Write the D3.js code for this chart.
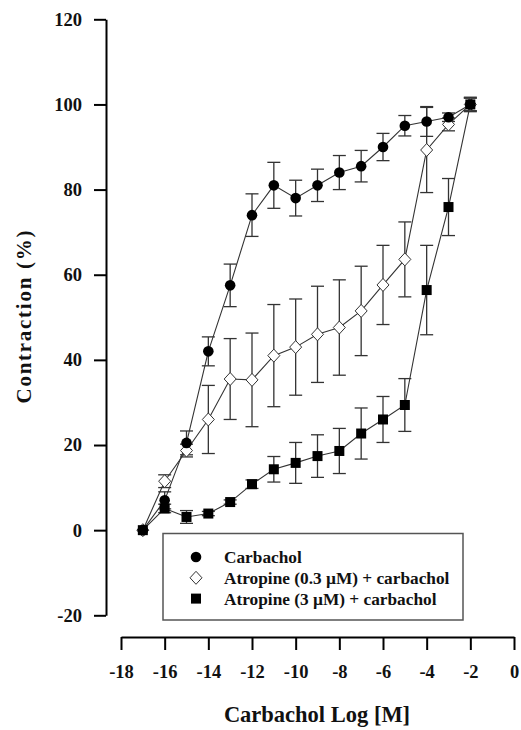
<!DOCTYPE html>
<html>
<head>
<meta charset="utf-8">
<script src="https://cdn.jsdelivr.net/npm/d3@7"></script>
<style>
  body { margin: 0; background: #fff; }
  text { font-family: "Liberation Serif", "Times New Roman", serif; font-weight: bold; fill: #111; }
</style>
</head>
<body>
<div id="chart"></div>
<script>
// log concentration of carbachol
const logDose = [-17, -16, -15, -14, -13, -12, -11, -10, -9, -8, -7, -6, -5, -4, -3, -2];

// carbachol alone
const carbMean = [0, 7, 20.5, 42, 57.5, 74, 81, 78, 81, 84, 85.5, 90, 95, 96, 97, 100];
const carbErr  = [0, 2, 2.8, 3.4, 5, 5, 5.4, 4.2, 3.8, 4, 3.7, 3.2, 2.4, 3.5, 1, 1.7];

// atropine 0.3 uM + carbachol
const atr03Mean = [0, 11.5, 18.7, 26, 35.5, 35.3, 41, 43, 46, 47.6, 51.5, 57.6, 63.6, 89.3, 95.3, 100];
const atr03Err  = [0, 1.5, 1.5, 8, 9.5, 11, 12, 11.3, 11.3, 11.2, 10.5, 9.3, 8.8, 10, 1.5, 1.5];

// atropine 3 uM + carbachol
const atr3Mean = [0, 5.1, 3.1, 3.9, 6.6, 10.8, 14.3, 15.8, 17.4, 18.6, 22.7, 26, 29.4, 56.4, 75.9, 100];
const atr3Err  = [0, 1, 1.5, 0.5, 0.5, 1, 3, 4.8, 5, 5.3, 6, 5.4, 6.2, 10.5, 6.7, 1.5];

const yTicks = [-20, 0, 20, 40, 60, 80, 100, 120];
const xTicks = [-18, -16, -14, -12, -10, -8, -6, -4, -2, 0];

const legendLabels = ["Carbachol", "Atropine (0.3 \u00B5M) + carbachol", "Atropine (3 \u00B5M) + carbachol"];

const W = 521, H = 730;

const svg = d3.select("#chart").append("svg")
    .attr("width", W)
    .attr("height", H);

const x = d3.scaleLinear().domain([-18, 0]).range([121, 514]);
const y = d3.scaleLinear().domain([-20, 120]).range([615.3, 19.3]);

// axes (plain hyphen for negatives, like the original)
const fmt = d => String(d);

const yAxis = svg.append("g")
    .attr("transform", "translate(106,0)")
    .call(d3.axisLeft(y).tickValues(yTicks).tickFormat(fmt).tickSize(12).tickSizeOuter(0).tickPadding(12));

const xAxis = svg.append("g")
    .attr("transform", "translate(0,637)")
    .call(d3.axisBottom(x).tickValues(xTicks).tickFormat(fmt).tickSize(13).tickSizeOuter(0).tickPadding(15));

[yAxis, xAxis].forEach(g => {
  g.select(".domain").attr("stroke", "#000").attr("stroke-width", 2);
  g.selectAll(".tick line").attr("stroke", "#000").attr("stroke-width", 2);
  g.selectAll(".tick text")
    .attr("font-family", "Liberation Serif, serif")
    .attr("font-weight", "bold")
    .attr("font-size", 18.5)
    .attr("fill", "#111");
});

// axis titles
svg.append("text")
    .attr("transform", "translate(31,317) rotate(-90)")
    .attr("text-anchor", "middle")
    .attr("font-size", 21)
    .attr("textLength", 173)
    .attr("lengthAdjust", "spacing")
    .text("Contraction (%)");

svg.append("text")
    .attr("x", 317)
    .attr("y", 722)
    .attr("text-anchor", "middle")
    .attr("font-size", 22.5)
    .text("Carbachol Log [M]");

// series
const series = [
  {mean: carbMean, err: carbErr, shape: "circle"},
  {mean: atr03Mean, err: atr03Err, shape: "diamond"},
  {mean: atr3Mean, err: atr3Err, shape: "square"}
];

const line = d3.line().x(d => x(d.x)).y(d => y(d.y));

function drawMarker(g, shape, cx, cy) {
  if (shape === "circle") {
    g.append("circle").attr("cx", cx).attr("cy", cy).attr("r", 5.3).attr("fill", "#000");
  } else if (shape === "square") {
    g.append("rect").attr("x", cx - 5).attr("y", cy - 5).attr("width", 10).attr("height", 10).attr("fill", "#000");
  } else {
    g.append("path")
      .attr("d", `M${cx},${cy - 6.5}L${cx + 6},${cy}L${cx},${cy + 6.5}L${cx - 6},${cy}Z`)
      .attr("fill", "#fff").attr("stroke", "#333").attr("stroke-width", 1);
  }
}

const plot = svg.append("g");

// connecting lines
series.forEach(s => {
  const pts = logDose.map((d, i) => ({x: d, y: s.mean[i]}));
  plot.append("path").datum(pts)
    .attr("d", line)
    .attr("fill", "none")
    .attr("stroke", "#333")
    .attr("stroke-width", 1.1);
});

// error bars
series.forEach(s => {
  logDose.forEach((d, i) => {
    const e = s.err[i];
    if (e <= 0) return;
    const cx = x(d), y1 = y(s.mean[i] + e), y2 = y(s.mean[i] - e);
    plot.append("line").attr("x1", cx).attr("x2", cx).attr("y1", y1).attr("y2", y2)
      .attr("stroke", "#333").attr("stroke-width", 1.3);
    [y1, y2].forEach(yy => plot.append("line")
      .attr("x1", cx - 6.5).attr("x2", cx + 6.5).attr("y1", yy).attr("y2", yy)
      .attr("stroke", "#333").attr("stroke-width", 1.3));
  });
});

// markers
[series[1], series[0], series[2]].forEach(s => {
  logDose.forEach((d, i) => drawMarker(plot, s.shape, x(d), y(s.mean[i])));
});

// legend
const leg = svg.append("g");
leg.append("rect")
    .attr("x", 163).attr("y", 533.5)
    .attr("width", 300).attr("height", 86.5)
    .attr("fill", "#fff")
    .attr("stroke", "#555").attr("stroke-width", 1.5);

legendLabels.forEach((lab, i) => {
  const cy = 557 + i * 20.8;
  drawMarker(leg, series[i].shape, 196, cy);
  leg.append("text")
    .attr("x", 224).attr("y", cy)
    .attr("dy", "0.35em")
    .attr("font-size", 17.3)
    .text(lab);
});
</script>
</body>
</html>
